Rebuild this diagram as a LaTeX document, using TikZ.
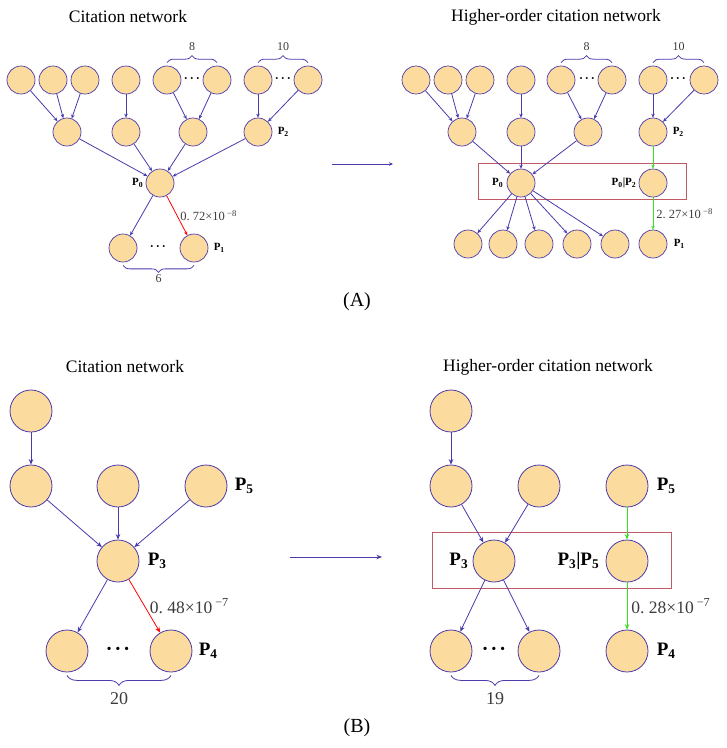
\documentclass[tikz,border=0pt]{standalone}
\usepackage{fontspec}
\setmainfont{Liberation Serif}
\usetikzlibrary{arrows.meta,positioning,decorations.pathreplacing}
\definecolor{nfill}{RGB}{252,219,158}
\definecolor{nline}{RGB}{74,58,172}
\definecolor{boxred}{RGB}{192,90,100}
\definecolor{grn}{RGB}{58,222,40}
\definecolor{txtgray}{RGB}{60,60,60}
\newcommand{\pn}[1]{\textbf{P\textsubscript{#1}}}
\newcommand{\ellipdots}{\textbf{·\kern2pt·\kern2pt·}}
\begin{document}
\begin{tikzpicture}[x=1pt,y=-1pt,line width=0.8pt,
nd/.style={circle,draw=nline,fill=nfill,inner sep=0pt,minimum size=28pt,line width=0.7pt},
ndb/.style={circle,draw=nline,fill=nfill,inner sep=0pt,minimum size=42pt,line width=0.8pt},
arr/.style={draw=nline,-{Stealth[length=4pt,width=3.5pt]}},
arrb/.style={draw=nline,-{Stealth[length=5.5pt,width=4.5pt]}},
redarr/.style={draw=red,-{Stealth[length=4pt,width=3.5pt]}},
redarrb/.style={draw=red,-{Stealth[length=5.5pt,width=4.5pt]}},
grnarr/.style={draw=grn,-{Stealth[length=4pt,width=3.5pt]}},
grnarrb/.style={draw=grn,-{Stealth[length=5.5pt,width=4.5pt]}},
brc/.style={draw=nline,decorate,decoration={brace,amplitude=7pt}},
brcb/.style={draw=nline,decorate,decoration={brace,amplitude=10pt}},
hobox/.style={draw=boxred,line width=0.9pt},
ttl/.style={font=\fontsize{17.5}{20}\selectfont},
captxt/.style={font=\fontsize{20}{24}\selectfont},
dts/.style={font=\fontsize{12}{14}\selectfont,inner sep=0pt},
dtsb/.style={font=\fontsize{20}{24}\selectfont,inner sep=0pt},
lbl/.style={font=\fontsize{11}{13}\selectfont,inner sep=0pt},
lblb/.style={font=\fontsize{19}{22}\selectfont,inner sep=0pt},
num/.style={font=\fontsize{12.5}{15}\selectfont,text=txtgray,inner sep=0pt},
numb/.style={font=\fontsize{17.5}{20}\selectfont,text=txtgray,inner sep=0pt},
cnt/.style={font=\fontsize{12}{14}\selectfont,text=txtgray,inner sep=1pt},
cntb/.style={font=\fontsize{18}{21}\selectfont,text=txtgray,inner sep=1pt}]
\useasboundingbox (0,0) rectangle (727,748);

% (A) citation network
\draw (128,17) node[ttl] (tA) {Citation network};
\draw (21,80) node[nd] (a1) {};
\draw (53,80) node[nd] (a2) {};
\draw (85,80) node[nd] (a3) {};
\draw (126,80) node[nd] (a4) {};
\draw (167,80) node[nd] (a5) {};
\draw (217,80) node[nd] (a6) {};
\draw (258,80) node[nd] (a7) {};
\draw (308,80) node[nd] (a8) {};
\draw (192,80) node[dts] (ad1) {\ellipdots};
\draw (283,80) node[dts] (ad2) {\ellipdots};
\draw (67,132) node[nd] (m1) {};
\draw (126,132) node[nd] (m2) {};
\draw (193,132) node[nd] (m3) {};
\draw (258,132) node[nd] (p2) {};
\draw (160,183) node[nd] (p0) {};
\draw (123,248) node[nd] (b1) {};
\draw (194,248) node[nd] (p1) {};
\draw (158,248) node[dts] (ad3) {\ellipdots};
\node[lbl,right=5pt of p2] (lp2) {\pn{2}};
\node[lbl,left=2pt of p0] (lp0) {\pn{0}};
\node[lbl,right=5pt of p1] (lp1) {\pn{1}};
\draw[brc] ([yshift=3pt]a5.north) -- ([yshift=3pt]a6.north) node[cnt,midway,above=11pt] (c8) {8};
\draw[brc] ([yshift=3pt]a7.north) -- ([yshift=3pt]a8.north) node[cnt,midway,above=11pt] (c10) {10};
\draw[brc] ([yshift=-3pt]p1.south) -- ([yshift=-3pt]b1.south) node[cnt,midway,below=8pt] (c6) {6};
\foreach \s/\t in {a1/m1,a2/m1,a3/m1,a4/m2,a5/m3,a6/m3,a7/p2,a8/p2,m1/p0,m2/p0,m3/p0,p2/p0,p0/b1}
  \draw[arr] (\s) -- (\t);
\draw[redarr] (p0) -- (p1) node[num,midway,right=3pt] (wA) {0.\ 72×10\textsuperscript{\ −8}};

\coordinate (gA1) at (332,164);
\coordinate (gA2) at (393,164);
\draw[arr] (gA1) -- (gA2);

% (A) higher-order citation network
\draw (556,17) node[ttl] (tA2) {Higher-order citation network};
\draw (416,80) node[nd] (h1) {};
\draw (448,80) node[nd] (h2) {};
\draw (480,80) node[nd] (h3) {};
\draw (521,80) node[nd] (h4) {};
\draw (561,80) node[nd] (h5) {};
\draw (612,80) node[nd] (h6) {};
\draw (653,80) node[nd] (h7) {};
\draw (704,80) node[nd] (h8) {};
\draw (587,80) node[dts] (hd1) {\ellipdots};
\draw (678,80) node[dts] (hd2) {\ellipdots};
\draw (462,132) node[nd] (k1) {};
\draw (521,132) node[nd] (k2) {};
\draw (588,132) node[nd] (k3) {};
\draw (653,132) node[nd] (q2) {};
\draw[hobox] (478,163) rectangle (686,199);
\draw (521,183) node[nd] (q0) {};
\draw (653,183) node[nd] (q02) {};
\draw (468,244) node[nd] (e1) {};
\draw (503,244) node[nd] (e2) {};
\draw (539,244) node[nd] (e3) {};
\draw (577,244) node[nd] (e4) {};
\draw (615,244) node[nd] (e5) {};
\draw (653,244) node[nd] (q1) {};
\node[lbl,right=5pt of q2] (lq2) {\pn{2}};
\node[lbl,left=3pt of q0] (lq0) {\pn{0}};
\node[lbl,left=2pt of q02] (lq02) {\pn{0}\textbf{|}\pn{2}};
\node[lbl,right=6pt of q1] (lq1) {\pn{1}};
\draw[brc] ([yshift=3pt]h5.north) -- ([yshift=3pt]h6.north) node[cnt,midway,above=11pt] (d8) {8};
\draw[brc] ([yshift=3pt]h7.north) -- ([yshift=3pt]h8.north) node[cnt,midway,above=11pt] (d10) {10};
\foreach \s/\t in {h1/k1,h2/k1,h3/k1,h4/k2,h5/k3,h6/k3,h7/q2,h8/q2,k1/q0,k2/q0,k3/q0,q0/e1,q0/e2,q0/e3,q0/e4,q0/e5}
  \draw[arr] (\s) -- (\t);
\draw[grnarr] (q2) -- (q02);
\draw[grnarr] (q02) -- (q1) node[num,midway,right=3pt] (wA2) {2.\ 27×10\textsuperscript{\ −8}};

\draw (357,302) node[captxt] (capA) {(A)};

% (B) citation network
\draw (125,367) node[ttl] (tB) {Citation network};
\draw (31,411) node[ndb] (u1) {};
\draw (31,486) node[ndb] (v1) {};
\draw (118,486) node[ndb] (v2) {};
\draw (206,486) node[ndb] (p5) {};
\draw (118,561) node[ndb] (p3) {};
\draw (67,651) node[ndb] (w1) {};
\draw (171,651) node[ndb] (p4) {};
\draw (118,651) node[dtsb] (wd) {\ellipdots};
\node[lblb,right=7pt of p5] (lp5) {\pn{5}};
\node[lblb,right=8pt of p3] (lp3) {\pn{3}};
\node[lblb,right=6pt of p4] (lp4) {\pn{4}};
\draw[brcb] ([yshift=-3pt]p4.south) -- ([yshift=-3pt]w1.south) node[cntb,midway,below=16pt] (c20) {20};
\foreach \s/\t in {u1/v1,v1/p3,v2/p3,p5/p3,p3/w1}
  \draw[arrb] (\s) -- (\t);
\draw[redarrb] (p3) -- (p4) node[numb,midway,right=5pt] (wB) {0.\ 48×10\textsuperscript{\ −7}};

\coordinate (gB1) at (290,557);
\coordinate (gB2) at (382,557);
\draw[arrb] (gB1) -- (gB2);

% (B) higher-order citation network
\draw (548,367) node[ttl] (tB2) {Higher-order citation network};
\draw[hobox] (432,532) rectangle (671,588);
\draw (451,411) node[ndb] (s1) {};
\draw (451,486) node[ndb] (r1) {};
\draw (539,486) node[ndb] (r2) {};
\draw (627,486) node[ndb] (q5) {};
\draw (494,561) node[ndb] (q3) {};
\draw (627,561) node[ndb] (q35) {};
\draw (451,651) node[ndb] (z1) {};
\draw (539,651) node[ndb] (z2) {};
\draw (627,651) node[ndb] (q4) {};
\draw (494,651) node[dtsb] (zd) {\ellipdots};
\node[lblb,right=8pt of q5] (lq5) {\pn{5}};
\node[lblb,left=4pt of q3] (lq3) {\pn{3}};
\node[lblb,left=6pt of q35] (lq35) {\pn{3}\textbf{|}\pn{5}};
\node[lblb,right=8pt of q4] (lq4) {\pn{4}};
\draw[brcb] ([yshift=-3pt]z2.south) -- ([yshift=-3pt]z1.south) node[cntb,midway,below=16pt] (c19) {19};
\foreach \s/\t in {s1/r1,r1/q3,r2/q3,q3/z1,q3/z2}
  \draw[arrb] (\s) -- (\t);
\draw[grnarrb] (q5) -- (q35);
\draw[grnarrb] (q35) -- (q4) node[numb,midway,right=4pt] (wB2) {0.\ 28×10\textsuperscript{\ −7}};

\draw (357,728) node[captxt] (capB) {(B)};
\end{tikzpicture}
\end{document}
